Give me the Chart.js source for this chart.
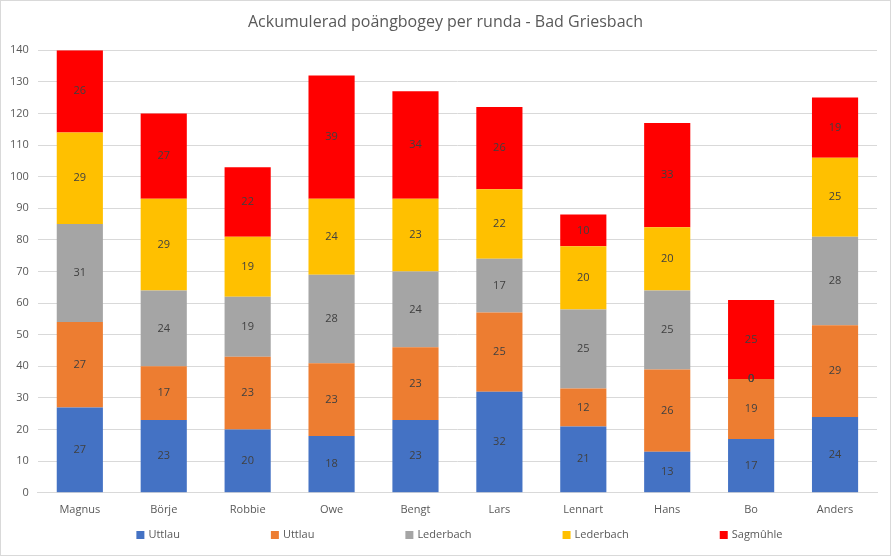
<!DOCTYPE html>
<html>
<head>
<meta charset="utf-8">
<script src="https://cdn.jsdelivr.net/npm/chart.js@4.4.0/dist/chart.umd.min.js"></script>
<style>
  html, body { margin: 0; padding: 0; background: #fff; }
  .wrap { position: relative; width: 889px; height: 554px; border: 1px solid #d9d9d9; }
</style>
</head>
<body>
<div class="wrap"><canvas id="myChart"></canvas></div>
<script>
const players = ["Magnus", "Börje", "Robbie", "Owe", "Bengt", "Lars", "Lennart", "Hans", "Bo", "Anders"];
const uttlau1 = [27, 23, 20, 18, 23, 32, 21, 13, 17, 24];
const uttlau2 = [27, 17, 23, 23, 23, 25, 12, 26, 19, 29];
const lederbach1 = [31, 24, 19, 28, 24, 17, 25, 25, 0, 28];
const lederbach2 = [29, 29, 19, 24, 23, 22, 20, 20, 0, 25];
const sagmuhle = [26, 27, 22, 39, 34, 26, 10, 33, 25, 19];
const yTicks = [0, 10, 20, 30, 40, 50, 60, 70, 80, 90, 100, 110, 120, 130, 140];

const txt = "#595959";
const fam = "'Open Sans', sans-serif";

// labels in the middle of every segment
const segLabels = {
  id: "segLabels",
  afterDatasetsDraw(chart) {
    const c = chart.ctx;
    c.save();
    c.font = "11px " + fam;
    c.fillStyle = "#404040";
    c.textAlign = "center";
    c.textBaseline = "middle";
    chart.data.datasets.forEach((ds, i) => {
      const meta = chart.getDatasetMeta(i);
      meta.data.forEach((bar, j) => {
        const p = bar.getProps(["x", "y", "base"], true);
        c.fillText(ds.data[j], p.x, (p.y + p.base) / 2);
      });
    });
    c.restore();
  }
};

// wide-spread legend under the x axis, like the Excel one
const spreadLegend = {
  id: "spreadLegend",
  afterDraw(chart) {
    const c = chart.ctx;
    const box = 8, gap = 4, space = 91;
    c.save();
    c.font = "11px " + fam;
    c.textBaseline = "middle";
    c.textAlign = "left";
    const items = chart.data.datasets.map(ds => ({
      text: ds.label, color: ds.backgroundColor, w: box + gap + c.measureText(ds.label).width
    }));
    const total = items.reduce((s, it) => s + it.w, 0) + space * (items.length - 1);
    const area = chart.chartArea;
    let x = (area.left + area.right) / 2 - total / 2 + 2;
    const y = chart.height - 20;
    items.forEach(it => {
      c.fillStyle = it.color;
      c.fillRect(x, y - box / 2, box, box);
      c.fillStyle = txt;
      c.fillText(it.text, x + box + gap, y);
      x += it.w + space;
    });
    c.restore();
  }
};

const ctx = document.getElementById("myChart").getContext("2d");
new Chart(ctx, {
  type: "bar",
  data: {
    labels: players,
    datasets: [
      { label: "Uttlau", data: uttlau1, backgroundColor: "#4472c4" },
      { label: "Uttlau", data: uttlau2, backgroundColor: "#ed7d31" },
      { label: "Lederbach", data: lederbach1, backgroundColor: "#a5a5a5" },
      { label: "Lederbach", data: lederbach2, backgroundColor: "#ffc000" },
      { label: "Sagmûhle", data: sagmuhle, backgroundColor: "#ff0000" },
    ],
  },
  options: {
    responsive: true,
    maintainAspectRatio: false,
    animation: false,
    layout: { padding: { left: 0, right: 0, top: 4, bottom: 37 } },
    datasets: { bar: { categoryPercentage: 1, barPercentage: 0.55 } },
    plugins: {
      title: {
        display: true,
        text: "Ackumulerad poängbogey per runda - Bad Griesbach",
        color: txt,
        font: { family: fam, size: 16, weight: "normal" },
        padding: { top: 8, bottom: 18 },
      },
      legend: { display: false },
      tooltip: { enabled: false },
    },
    scales: {
      x: {
        stacked: true,
        grid: { display: false },
        border: { color: "#d9d9d9" },
        ticks: { color: txt, padding: 2, font: { family: fam, size: 11 } },
      },
      y: {
        stacked: true,
        min: 0,
        max: 140,
        afterBuildTicks: (axis) => { axis.ticks = yTicks.map(v => ({ value: v })); },
        grid: { color: "#d9d9d9", drawTicks: false },
        border: { display: false },
        ticks: { color: txt, padding: 9, font: { family: fam, size: 11 } },
      },
      // empty right axis, only keeps a margin so the title stays centred on the page
      yRight: {
        position: "right",
        grid: { display: false },
        border: { display: false },
        ticks: { display: false },
        afterFit: (axis) => { axis.width = 13; },
      },
    },
  },
  plugins: [segLabels, spreadLegend],
});
</script>
</body>
</html>
